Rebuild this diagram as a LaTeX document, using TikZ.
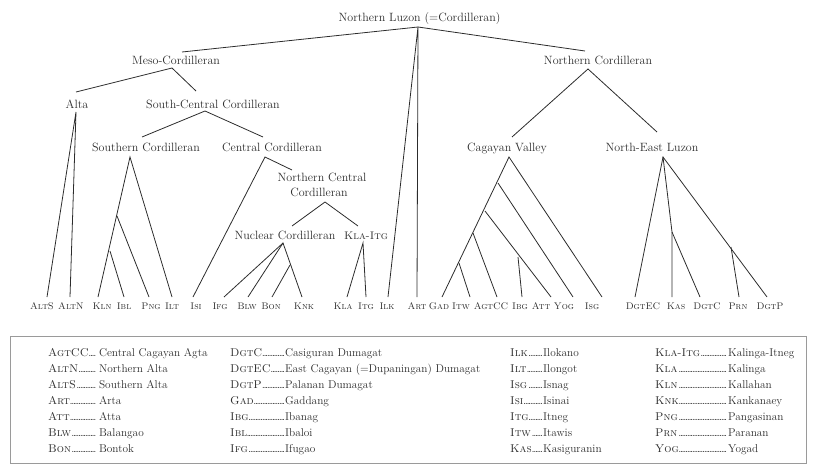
\documentclass[tikz,border=0pt]{standalone}
\usepackage{fontspec}
\definecolor{ink}{HTML}{2C2C2C}
\definecolor{frame}{HTML}{9A9A9A}
\newcommand\lead{\leaders\hbox to 1.7pt{\hss.\hss}\hfill}
\newcommand\entry[3]{\hbox to #1pt{\textsc{#2}\lead}#3}
\begin{document}
\begin{tikzpicture}[x=1pt,y=-1pt,
  lbl/.style={inner sep=0pt,anchor=base,text=ink,font=\fontsize{12}{14}\selectfont},
  leaf/.style={inner sep=0pt,anchor=base,text=ink,font=\fontsize{9.6}{12}\selectfont\scshape},
  leg/.style={inner sep=0pt,anchor=base west,text=ink,font=\fontsize{11.3}{13}\selectfont},
  br/.style={draw=ink,line width=0.8pt}]
\useasboundingbox (0,0) rectangle (816,466);
% ---------- labels ----------
\node[lbl] (root) at (419.5,21) {Northern Luzon (=Cordilleran)};
\node[lbl] (meso) at (176,64) {Meso-Cordilleran};
\node[lbl] (ncor) at (598,64) {Northern Cordilleran};
\node[lbl] (alta) at (77,108) {Alta};
\node[lbl] (sc) at (213,108) {South-Central Cordilleran};
\node[lbl] (scor) at (146,151) {Southern Cordilleran};
\node[lbl] (ccor) at (272,151) {Central Cordilleran};
\node[lbl] (cv) at (507,151) {Cagayan Valley};
\node[lbl] (nel) at (652,151) {North-East Luzon};
\node[lbl] (ncc) at (322,181) {Northern Central};
\node[lbl] (ncc2) at (319,196) {Cordilleran};
\node[lbl] (nuc) at (285,239) {Nuclear Cordilleran};
\node[lbl,font=\fontsize{11}{13}\selectfont\scshape] (klaitg) at (366,239) {Kla-Itg};
% ---------- leaves ----------
\foreach \n/\x/\t in {altS/42/AltS,altN/71/AltN,kln/102/Kln,ibl/124/Ibl,png/151/Png,ilt/172/Ilt,
  isi/196/Isi,ifg/220/Ifg,blw/247/Blw,bon/271/Bon,knk/304/Knk,kla/343/Kla,itg/366/Itg,ilk/387/Ilk,
  art/417/Art,gad/439/Gad,itw/461/Itw,agtcc/491/AgtCC,ibg/520/Ibg,att/541/Att,yog/564/Yog,isg/592/Isg,
  dgtec/643/DgtEC,kas/676/Kas,dgtc/707/DgtC,prn/738/Prn,dgtp/770/DgtP}
  \node[leaf] (\n) at (\x,309) {\t};
% ---------- connection points ----------
\coordinate (T) at (418,27);
\coordinate (mesoT) at (182,52);   \coordinate (mesoB) at (172,68);
\coordinate (ncorT) at (585,51);   \coordinate (ncorB) at (588,69);
\coordinate (altaT) at (76,92);    \coordinate (altaB) at (76,112);
\coordinate (scT) at (196,91);     \coordinate (scB) at (205,111);
\coordinate (scorT) at (142,137);  \coordinate (scorB) at (130,157);
\coordinate (ccorT) at (263,137);  \coordinate (ccorB) at (265,157);
\coordinate (nccT) at (292,170);   \coordinate (nccB) at (325,202);
\coordinate (nucT) at (292,226);   \coordinate (nucB) at (283,243);
\coordinate (klT) at (358,226);    \coordinate (klB) at (363,243);
\coordinate (cvT) at (512,137);    \coordinate (cvB) at (509,157);
\coordinate (nelT) at (657,132);   \coordinate (nelB) at (663,157);
\coordinate (b1) at (117,216); \coordinate (b2) at (110,251); \coordinate (b3) at (290,265);
\coordinate (c1) at (498,183); \coordinate (c2) at (485,211); \coordinate (c3) at (473,233);
\coordinate (c4) at (459,263); \coordinate (c5) at (518,257);
\coordinate (k1) at (672,232); \coordinate (d1) at (731,247);
\foreach \n/\x in {altS/47,altN/70,kln/98,ibl/124,png/149,ilt/172,isi/193,ifg/224,blw/248,bon/272,
  knk/302,kla/347,itg/366,ilk/388,art/417,gad/442,itw/470,agtcc/497,ibg/522,att/551,yog/573,isg/602,
  dgtec/635,kas/672,dgtc/700,prn/739,dgtp/767}
  \coordinate (\n T) at (\x,297);
% ---------- branches ----------
\draw[br] (mesoT) -- (T) -- (ncorT);
\draw[br] (ilkT) -- (T) -- (artT);
\draw[br] (altaT) -- (mesoB) -- (scT);
\draw[br] (altST) -- (altaB) -- (altNT);
\draw[br] (scorT) -- (scB) -- (ccorT);
\draw[br] (klnT) -- (scorB) -- (iltT);
\draw[br] (b1) -- (pngT);
\draw[br] (b2) -- (iblT);
\draw[br] (isiT) -- (ccorB) -- (nccT);
\draw[br] (nucT) -- (nccB) -- (klT);
\draw[br] (ifgT) -- (nucB) -- (knkT);
\draw[br] (nucB) -- (blwT);
\draw[br] (b3) -- (bonT);
\draw[br] (klaT) -- (klB) -- (itgT);
\draw[br] (cvT) -- (ncorB) -- (nelT);
\draw[br] (gadT) -- (cvB) -- (isgT);
\draw[br] (c1) -- (yogT);
\draw[br] (c2) -- (attT);
\draw[br] (c3) -- (agtccT);
\draw[br] (c4) -- (itwT);
\draw[br] (c5) -- (ibgT);
\draw[br] (dgtecT) -- (nelB) -- (dgtpT);
\draw[br] (nelB) -- (k1) -- (kasT);
\draw[br] (k1) -- (dgtcT);
\draw[br] (d1) -- (prnT);
% ---------- legend ----------
\node[draw=frame,line width=0.8pt,inner sep=0pt,minimum width=796pt,minimum height=127pt,anchor=north west] (box) at (10,336) {};
\foreach \i/\a/\b in {0/AgtCC/Central Cagayan Agta,1/AltN/Northern Alta,2/AltS/Southern Alta,3/Art/Arta,4/Att/Atta,5/Blw/Balangao,6/Bon/Bontok}
  \node[leg] (la\i) at (48,356+16*\i) {\entry{49}{\a}{\,\b}};
\foreach \i/\a/\b in {0/DgtC/Casiguran Dumagat,1/DgtEC/East Cagayan (=Dupaningan) Dumagat,2/DgtP/Palanan Dumagat,3/Gad/Gaddang,4/Ibg/Ibanag,5/Ibl/Ibaloi,6/Ifg/Ifugao}
  \node[leg] (lb\i) at (230,356+16*\i) {\entry{55}{\a}{\b}};
\foreach \i/\a/\b in {0/Ilk/Ilokano,1/Ilt/Ilongot,2/Isg/Isnag,3/Isi/Isinai,4/Itg/Itneg,5/Itw/Itawis,6/Kas/Kasiguranin}
  \node[leg] (lc\i) at (510,356+16*\i) {\entry{33}{\a}{\b}};
\foreach \i/\a/\b in {0/Kla-Itg/Kalinga-Itneg,1/Kla/Kalinga,2/Kln/Kallahan,3/Knk/Kankanaey,4/Png/Pangasinan,5/Prn/Paranan,6/Yog/Yogad}
  \node[leg] (ld\i) at (655,356+16*\i) {\entry{73}{\a}{\b}};
\end{tikzpicture}
\end{document}
